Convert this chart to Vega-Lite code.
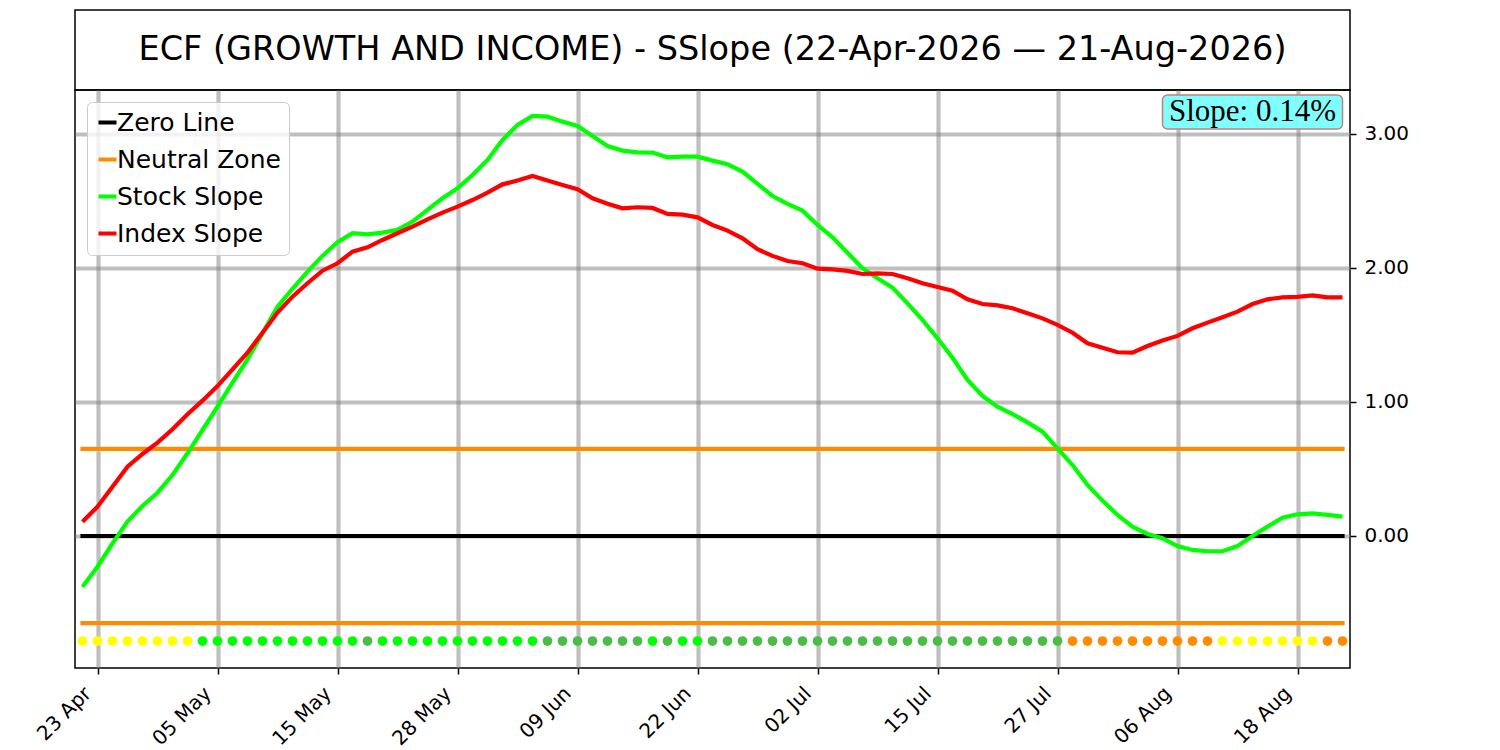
{
  "$schema": "https://vega.github.io/schema/vega-lite/v6.json",
  "background": "white",
  "padding": {"left": 32, "top": 9, "right": 5, "bottom": 0},
  "spacing": 0,
  "bounds": "flush",
  "resolve": {
    "scale": {"color": "independent", "fill": "independent"},
    "legend": {"color": "independent", "fill": "independent"}
  },
  "config": {
    "font": "DejaVu Sans",
    "view": {"stroke": "#000000", "strokeWidth": 1.5}
  },
  "vconcat": [
    {
      "width": 1275,
      "height": 80,
      "data": {"values": [{"title": "ECF (GROWTH AND INCOME) - SSlope (22-Apr-2026 — 21-Aug-2026)"}]},
      "layer": [
        {
          "mark": {"type": "rect", "fill": "#ffffff", "stroke": "#000000", "strokeWidth": 1.5}
        },
        {
          "mark": {"type": "text", "fontSize": 33.5, "font": "DejaVu Sans", "color": "#000000"},
          "encoding": {"text": {"field": "title"}}
        }
      ]
    },
    {
      "width": 1275,
      "height": 578,
      "data": {"values": [
        {"date": "2026-04-22", "stock": -0.378, "index": 0.107, "zone": "neutral_up"},
        {"date": "2026-04-23", "stock": -0.229, "index": 0.219, "zone": "neutral_up"},
        {"date": "2026-04-24", "stock": -0.055, "index": 0.368, "zone": "neutral_up"},
        {"date": "2026-04-27", "stock": 0.107, "index": 0.517, "zone": "neutral_up"},
        {"date": "2026-04-28", "stock": 0.224, "index": 0.612, "zone": "neutral_up"},
        {"date": "2026-04-29", "stock": 0.323, "index": 0.697, "zone": "neutral_up"},
        {"date": "2026-04-30", "stock": 0.455, "index": 0.796, "zone": "neutral_up"},
        {"date": "2026-05-01", "stock": 0.617, "index": 0.908, "zone": "neutral_up"},
        {"date": "2026-05-04", "stock": 0.791, "index": 1.010, "zone": "trend_up"},
        {"date": "2026-05-05", "stock": 0.965, "index": 1.119, "zone": "trend_up"},
        {"date": "2026-05-06", "stock": 1.144, "index": 1.244, "zone": "trend_up"},
        {"date": "2026-05-07", "stock": 1.318, "index": 1.368, "zone": "trend_up"},
        {"date": "2026-05-08", "stock": 1.512, "index": 1.517, "zone": "trend_up"},
        {"date": "2026-05-11", "stock": 1.711, "index": 1.667, "zone": "trend_up"},
        {"date": "2026-05-12", "stock": 1.845, "index": 1.786, "zone": "trend_up"},
        {"date": "2026-05-13", "stock": 1.973, "index": 1.886, "zone": "trend_up"},
        {"date": "2026-05-14", "stock": 2.090, "index": 1.980, "zone": "trend_up"},
        {"date": "2026-05-15", "stock": 2.192, "index": 2.035, "zone": "trend_up"},
        {"date": "2026-05-18", "stock": 2.259, "index": 2.122, "zone": "trend_up"},
        {"date": "2026-05-19", "stock": 2.251, "index": 2.154, "zone": "trend_down"},
        {"date": "2026-05-20", "stock": 2.264, "index": 2.209, "zone": "trend_up"},
        {"date": "2026-05-21", "stock": 2.284, "index": 2.259, "zone": "trend_up"},
        {"date": "2026-05-22", "stock": 2.346, "index": 2.308, "zone": "trend_up"},
        {"date": "2026-05-26", "stock": 2.433, "index": 2.363, "zone": "trend_up"},
        {"date": "2026-05-27", "stock": 2.520, "index": 2.413, "zone": "trend_up"},
        {"date": "2026-05-28", "stock": 2.594, "index": 2.458, "zone": "trend_up"},
        {"date": "2026-05-29", "stock": 2.694, "index": 2.507, "zone": "trend_up"},
        {"date": "2026-06-01", "stock": 2.806, "index": 2.562, "zone": "trend_up"},
        {"date": "2026-06-02", "stock": 2.955, "index": 2.624, "zone": "trend_up"},
        {"date": "2026-06-03", "stock": 3.067, "index": 2.652, "zone": "trend_up"},
        {"date": "2026-06-04", "stock": 3.134, "index": 2.687, "zone": "trend_up"},
        {"date": "2026-06-05", "stock": 3.129, "index": 2.652, "zone": "trend_down"},
        {"date": "2026-06-08", "stock": 3.092, "index": 2.619, "zone": "trend_down"},
        {"date": "2026-06-09", "stock": 3.060, "index": 2.587, "zone": "trend_down"},
        {"date": "2026-06-10", "stock": 2.985, "index": 2.520, "zone": "trend_down"},
        {"date": "2026-06-11", "stock": 2.910, "index": 2.480, "zone": "trend_down"},
        {"date": "2026-06-12", "stock": 2.876, "index": 2.445, "zone": "trend_down"},
        {"date": "2026-06-15", "stock": 2.863, "index": 2.453, "zone": "trend_down"},
        {"date": "2026-06-16", "stock": 2.861, "index": 2.448, "zone": "trend_up"},
        {"date": "2026-06-17", "stock": 2.826, "index": 2.403, "zone": "trend_down"},
        {"date": "2026-06-18", "stock": 2.831, "index": 2.398, "zone": "trend_up"},
        {"date": "2026-06-22", "stock": 2.831, "index": 2.378, "zone": "trend_up"},
        {"date": "2026-06-23", "stock": 2.801, "index": 2.321, "zone": "trend_down"},
        {"date": "2026-06-24", "stock": 2.774, "index": 2.279, "zone": "trend_down"},
        {"date": "2026-06-25", "stock": 2.719, "index": 2.221, "zone": "trend_down"},
        {"date": "2026-06-26", "stock": 2.627, "index": 2.140, "zone": "trend_down"},
        {"date": "2026-06-29", "stock": 2.537, "index": 2.090, "zone": "trend_down"},
        {"date": "2026-06-30", "stock": 2.478, "index": 2.052, "zone": "trend_down"},
        {"date": "2026-07-01", "stock": 2.428, "index": 2.035, "zone": "trend_down"},
        {"date": "2026-07-02", "stock": 2.321, "index": 1.995, "zone": "trend_down"},
        {"date": "2026-07-06", "stock": 2.229, "index": 1.990, "zone": "trend_down"},
        {"date": "2026-07-07", "stock": 2.114, "index": 1.978, "zone": "trend_down"},
        {"date": "2026-07-08", "stock": 1.998, "index": 1.955, "zone": "trend_down"},
        {"date": "2026-07-09", "stock": 1.923, "index": 1.960, "zone": "trend_down"},
        {"date": "2026-07-10", "stock": 1.853, "index": 1.955, "zone": "trend_down"},
        {"date": "2026-07-13", "stock": 1.736, "index": 1.923, "zone": "trend_down"},
        {"date": "2026-07-14", "stock": 1.612, "index": 1.886, "zone": "trend_down"},
        {"date": "2026-07-15", "stock": 1.475, "index": 1.858, "zone": "trend_down"},
        {"date": "2026-07-16", "stock": 1.330, "index": 1.831, "zone": "trend_down"},
        {"date": "2026-07-17", "stock": 1.164, "index": 1.766, "zone": "trend_down"},
        {"date": "2026-07-20", "stock": 1.045, "index": 1.731, "zone": "trend_down"},
        {"date": "2026-07-21", "stock": 0.965, "index": 1.721, "zone": "trend_down"},
        {"date": "2026-07-22", "stock": 0.910, "index": 1.699, "zone": "trend_down"},
        {"date": "2026-07-23", "stock": 0.848, "index": 1.662, "zone": "trend_down"},
        {"date": "2026-07-24", "stock": 0.779, "index": 1.624, "zone": "trend_down"},
        {"date": "2026-07-27", "stock": 0.654, "index": 1.575, "zone": "trend_down"},
        {"date": "2026-07-28", "stock": 0.530, "index": 1.517, "zone": "neutral_down"},
        {"date": "2026-07-29", "stock": 0.381, "index": 1.438, "zone": "neutral_down"},
        {"date": "2026-07-30", "stock": 0.264, "index": 1.405, "zone": "neutral_down"},
        {"date": "2026-07-31", "stock": 0.157, "index": 1.371, "zone": "neutral_down"},
        {"date": "2026-08-03", "stock": 0.070, "index": 1.368, "zone": "neutral_down"},
        {"date": "2026-08-04", "stock": 0.015, "index": 1.418, "zone": "neutral_down"},
        {"date": "2026-08-05", "stock": -0.017, "index": 1.458, "zone": "neutral_down"},
        {"date": "2026-08-06", "stock": -0.075, "index": 1.493, "zone": "neutral_down"},
        {"date": "2026-08-07", "stock": -0.104, "index": 1.550, "zone": "neutral_down"},
        {"date": "2026-08-10", "stock": -0.114, "index": 1.592, "zone": "neutral_down"},
        {"date": "2026-08-11", "stock": -0.114, "index": 1.632, "zone": "neutral_up"},
        {"date": "2026-08-12", "stock": -0.075, "index": 1.674, "zone": "neutral_up"},
        {"date": "2026-08-13", "stock": 0.000, "index": 1.731, "zone": "neutral_up"},
        {"date": "2026-08-14", "stock": 0.070, "index": 1.766, "zone": "neutral_up"},
        {"date": "2026-08-17", "stock": 0.137, "index": 1.781, "zone": "neutral_up"},
        {"date": "2026-08-18", "stock": 0.162, "index": 1.784, "zone": "neutral_up"},
        {"date": "2026-08-19", "stock": 0.169, "index": 1.796, "zone": "neutral_up"},
        {"date": "2026-08-20", "stock": 0.157, "index": 1.781, "zone": "neutral_down"},
        {"date": "2026-08-21", "stock": 0.144, "index": 1.781, "zone": "neutral_down"}
      ]},
      "encoding": {
        "x": {
          "field": "date",
          "type": "ordinal",
          "scale": {"type": "point", "padding": 0.5},
          "axis": {
            "values": ["2026-04-23", "2026-05-05", "2026-05-15", "2026-05-28", "2026-06-09", "2026-06-22", "2026-07-02", "2026-07-15", "2026-07-27", "2026-08-06", "2026-08-18"],
            "labelExpr": "utcFormat(toDate(datum.value), '%d %b')",
            "labelAngle": -45,
            "labelAlign": "right",
            "labelBaseline": "top",
            "labelOffset": -17,
            "labelPadding": 9,
            "labelFontSize": 20,
            "labelColor": "#000000",
            "grid": true,
            "gridColor": "#808080",
            "gridOpacity": 0.5,
            "gridWidth": 4.2,
            "domain": false,
            "tickColor": "#000000",
            "tickSize": 6,
            "tickWidth": 1.5,
            "title": null
          }
        }
      },
      "layer": [
        {
          "mark": {"type": "line", "strokeWidth": 4.2, "strokeCap": "square"},
          "encoding": {
            "y": {
              "datum": 0,
              "type": "quantitative",
              "scale": {"domain": [-0.985, 3.328], "nice": false, "zero": false},
              "title": null,
              "axis": {
                "orient": "right",
                "values": [0, 1, 2, 3],
                "format": ".2f",
                "title": null,
                "grid": true,
                "gridColor": "#808080",
                "gridOpacity": 0.5,
                "gridWidth": 4.2,
                "domain": false,
                "tickColor": "#000000",
                "tickSize": 6,
                "tickWidth": 1.5,
                "labelFontSize": 20,
                "labelColor": "#000000",
                "labelPadding": 8
              }
            },
            "color": {"datum": "zero", "type": "nominal"}
          }
        },
        {
          "mark": {"type": "line", "strokeWidth": 4.2, "strokeCap": "square"},
          "encoding": {
            "y": {"datum": 0.65, "type": "quantitative", "title": null},
            "color": {"datum": "neutral", "type": "nominal"}
          }
        },
        {
          "mark": {"type": "line", "strokeWidth": 4.2, "strokeCap": "square"},
          "encoding": {
            "y": {"datum": -0.65, "type": "quantitative", "title": null},
            "color": {"datum": "neutral", "type": "nominal"}
          }
        },
        {
          "transform": [{"fold": ["stock", "index"], "as": ["series", "value"]}],
          "mark": {"type": "line", "strokeWidth": 4.2},
          "encoding": {
            "y": {"field": "value", "type": "quantitative", "title": null},
            "color": {
              "field": "series",
              "type": "nominal",
              "scale": {
                "domain": ["zero", "neutral", "stock", "index"],
                "range": ["#000000", "#ff8c00", "#00ff00", "#ff0000"]
              },
              "legend": {
                "title": null,
                "orient": "top-left",
                "offset": 12,
                "labelExpr": "datum.label == 'zero' ? 'Zero Line' : datum.label == 'neutral' ? 'Neutral Zone' : datum.label == 'stock' ? 'Stock Slope' : 'Index Slope'",
                "symbolType": "stroke",
                "symbolSize": 324,
                "symbolStrokeWidth": 4,
                "labelFontSize": 25,
                "labelColor": "#000000",
                "labelOffset": -3,
                "labelLimit": 300,
                "rowPadding": 11,
                "padding": 8,
                "fillColor": "rgba(255,255,255,0.8)",
                "strokeColor": "#cccccc",
                "cornerRadius": 5
              }
            },
            "order": {"field": "series", "sort": "descending"}
          }
        },
        {
          "mark": {"type": "point", "filled": true, "shape": "circle", "size": 95, "opacity": 1},
          "encoding": {
            "y": {"datum": -0.784, "type": "quantitative", "title": null},
            "fill": {
              "field": "zone",
              "type": "nominal",
              "scale": {
                "domain": ["neutral_up", "neutral_down", "trend_up", "trend_down"],
                "range": ["#ffff00", "#ff8c00", "#00ff00", "#4cbb47"]
              },
              "legend": null
            }
          }
        },
        {
          "data": {"values": [{}]},
          "mark": {"type": "rect", "fill": "#80ffff", "stroke": "#c08080", "strokeWidth": 1.5, "cornerRadius": 5},
          "encoding": {
            "x": {"datum": "2026-08-05", "type": "ordinal", "title": null},
            "x2": {"datum": "2026-08-21"},
            "y": {"datum": 3.291, "type": "quantitative", "title": null},
            "y2": {"datum": 3.037}
          }
        },
        {
          "data": {"values": [{"label": "Slope: 0.14%"}]},
          "mark": {"type": "text", "font": "Liberation Serif", "fontSize": 31, "color": "#000000", "align": "center", "baseline": "middle"},
          "encoding": {
            "x": {"datum": "2026-08-13", "type": "ordinal", "title": null},
            "y": {"datum": 3.164, "type": "quantitative", "title": null},
            "text": {"field": "label"}
          }
        }
      ]
    }
  ]
}
